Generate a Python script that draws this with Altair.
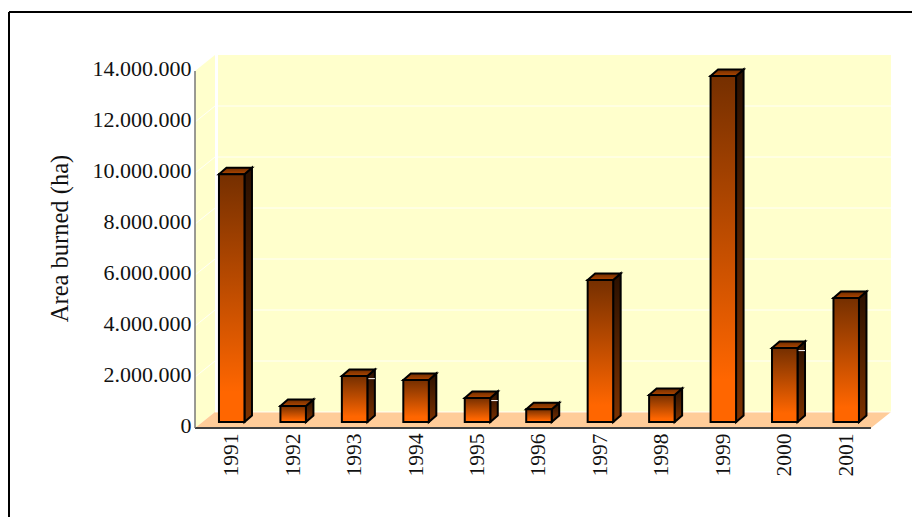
import altair as alt
import pandas as pd

# Burned area per year, in hectares
years = [1991, 1992, 1993, 1994, 1995, 1996, 1997, 1998, 1999, 2000, 2001]
area_ha = [9720000, 630000, 1800000, 1650000, 940000, 500000, 5570000, 1060000, 13570000, 2900000, 4860000]
y_ticks = [0, 2000000, 4000000, 6000000, 8000000, 10000000, 12000000, 14000000]
highlight_years = [1993, 1995, 2000]

# Scale extents and the pseudo-3D depth of the box and of the columns
PX_X = 61.45
PX_Y = 25.5 / 1e6
X0, X1 = 1990.5, 2001.5
BOX_DX, BOX_DY = 20 / PX_X, 16 / PX_Y
BAR_DX, BAR_DY = 7.5 / PX_X, 6.5 / PX_Y
BAR_LIFT = 6 / PX_Y
BAR_L, BAR_W = -0.11, 25.5 / PX_X
TOP = 14000000
TEXT = "#111111"

x_scale = alt.Scale(domain=[X0, X0 + 695 / PX_X], range=[0, 695], nice=False, zero=False)
y_scale = alt.Scale(domain=[0, 373 / PX_Y], range=[373, 0], nice=False, zero=False)

x_axis = alt.Axis(
    values=years, format="d", title=None, grid=False, domain=False, ticks=False,
    labelAngle=-90, labelFont="Liberation Serif", labelFontSize=21.5, labelColor=TEXT,
    labelPadding=5, labelOffset=6, labelOverlap=False, labelFlush=False,
)
y_axis = alt.Axis(
    values=y_ticks, title="Area burned (ha)", grid=False, domain=False, ticks=False,
    labelExpr="replace(format(datum.value, ','), /,/g, '.')",
    labelFont="Liberation Serif", labelFontSize=22, labelColor=TEXT,
    labelPadding=4, labelOffset=-3, labelOverlap=False, labelFlush=False,
    titleFont="Liberation Serif", titleFontSize=24.5, titleFontWeight="normal", titleColor=TEXT,
    titleX=-123, titleY=183, titleAnchor="middle",
)


def vgrad(*stops):
    return alt.Gradient(
        gradient="linear", x1=0, x2=0, y1=0, y2=1,
        stops=[alt.GradientStop(offset=o, color=c) for o, c in stops],
    )


def ex():
    return alt.X("x:Q", scale=x_scale, axis=x_axis)


def ey():
    return alt.Y("y:Q", scale=y_scale, axis=y_axis, stack=None)


def area(rows, group=None, **mark):
    enc = dict(x=ex(), y=ey(), y2=alt.Y2("y2:Q"))
    if group:
        enc["detail"] = alt.Detail(f"{group}:N")
    return alt.Chart(pd.DataFrame(rows)).mark_area(orient="vertical", **mark).encode(**enc)


def span(x, x_end, y_val):
    return {"x": x, "x2": x_end, "y": y_val}


# Walls and floor of the box
back_wall = area(
    [{"x": X0 + BOX_DX, "y": TOP + BOX_DY, "y2": BOX_DY}, {"x": X1 + BOX_DX, "y": TOP + BOX_DY, "y2": BOX_DY}],
    fill="#ffffcc",
)
left_wall = area(
    [{"x": X0, "y": TOP, "y2": 0}, {"x": X0 + BOX_DX, "y": TOP + BOX_DY, "y2": BOX_DY}],
    fill="#ffffcc",
)
floor = area(
    [
        {"x": X0, "y": 0, "y2": 0},
        {"x": X0 + BOX_DX, "y": BOX_DY, "y2": 0},
        {"x": X1, "y": BOX_DY, "y2": 0},
        {"x": X1 + BOX_DX, "y": BOX_DY, "y2": BOX_DY},
    ],
    fill="#ffcc99",
)

# White gridlines on the back wall, and their continuation across the left wall
grid_back = (
    alt.Chart(pd.DataFrame([span(X0 + BOX_DX, X1 + BOX_DX, t + BOX_DY) for t in y_ticks[:-1]]))
    .mark_rule(color="#ffffff", strokeWidth=1, opacity=0.85)
    .encode(x=ex(), x2="x2:Q", y=ey())
)
grid_side = (
    alt.Chart(pd.DataFrame(
        [r for t in y_ticks[1:-1] for r in (
            {"x": X0, "y": t, "t": t},
            {"x": X0 + BOX_DX, "y": t + BOX_DY, "t": t},
        )]
    ))
    .mark_line(color="#ffffff", strokeWidth=1, opacity=0.85)
    .encode(x=ex(), y=ey(), detail="t:N")
)
wall_edge = (
    alt.Chart(pd.DataFrame([span(X0 + BOX_DX + 1.5 / PX_X, X0 + BOX_DX, BOX_DY) | {"y2": TOP + BOX_DY}]))
    .mark_rule(color="#ffffff", strokeWidth=3)
    .encode(x=ex(), y=ey(), y2="y2:Q")
)

# Axis lines
axis_x = (
    alt.Chart(pd.DataFrame([span(X0, X1, 0)]))
    .mark_rule(color="#404040", strokeWidth=2)
    .encode(x=ex(), x2="x2:Q", y=ey())
)
axis_y = (
    alt.Chart(pd.DataFrame([{"x": X0, "y": 0, "y2": TOP}]))
    .mark_rule(color="#777777", strokeWidth=1.5)
    .encode(x=ex(), y=ey(), y2="y2:Q")
)

# Column faces: side and top are parallelograms, the front is a rectangle
edge = dict(stroke="#000000", strokeWidth=2, strokeJoin="miter")
side_rows, top_rows, front_rows = [], [], []
for yr, v in zip(years, area_ha):
    l = yr + BAR_L
    r = l + BAR_W
    base = BAR_LIFT
    side_rows += [
        {"x": r, "y": base + v, "y2": base, "yr": yr},
        {"x": r + BAR_DX, "y": base + v + BAR_DY, "y2": base + BAR_DY, "yr": yr},
    ]
    top_rows += [
        {"x": l, "y": base + v, "y2": base + v, "yr": yr},
        {"x": l + BAR_DX, "y": base + v + BAR_DY, "y2": base + v, "yr": yr},
        {"x": r, "y": base + v + BAR_DY, "y2": base + v, "yr": yr},
        {"x": r + BAR_DX, "y": base + v + BAR_DY, "y2": base + v + BAR_DY, "yr": yr},
    ]
    front_rows.append({"x": l, "x2": r, "y": base + v, "y2": base})

sides = area(side_rows, group="yr", fill=vgrad((0, "#2a1000"), (1, "#7d3200")), **edge)
tops = area(top_rows, group="yr", fill=vgrad((0, "#6e2c00"), (1, "#b04700")), **edge)
fronts = (
    alt.Chart(pd.DataFrame(front_rows))
    .mark_rect(fill=vgrad((0, "#752f00"), (0.88, "#ff6600"), (1, "#ff6600")), **edge)
    .encode(x=ex(), x2="x2:Q", y=ey(), y2="y2:Q")
)

# Short white glints on the side faces of a few columns
glints = (
    alt.Chart(pd.DataFrame([
        span(yr + BAR_L + BAR_W + 1 / PX_X, yr + BAR_L + BAR_W + BAR_DX, BAR_LIFT + area_ha[years.index(yr)] - 0.1e6)
        for yr in highlight_years
    ]))
    .mark_rule(color="#ffffff", strokeWidth=1)
    .encode(x=ex(), x2="x2:Q", y=ey())
)

# Page frame, open towards the right and bottom edges of the canvas
frame_top = alt.Chart(pd.DataFrame({"a": [0]})).mark_rule(color="#000000", strokeWidth=2).encode(
    x=alt.value(-186), x2=alt.value(717), y=alt.value(-43)
)
frame_left = alt.Chart(pd.DataFrame({"a": [0]})).mark_rule(color="#000000", strokeWidth=2).encode(
    x=alt.value(-186), y=alt.value(-43), y2=alt.value(462)
)

chart = (
    alt.layer(
        back_wall, left_wall, floor, grid_back, grid_side, wall_edge, axis_x, axis_y,
        sides, tops, fronts, glints, frame_top, frame_left,
    )
    .resolve_scale(x="shared", y="shared")
    .properties(
        width=695,
        height=373,
        background="#ffffff",
        autosize=alt.AutoSizeParams(type="none"),
        padding={"left": 195, "top": 55, "right": 22, "bottom": 89},
    )
    .configure_view(stroke=None)
)

chart.save("out.html", embed_options={"renderer": "svg", "actions": False})
